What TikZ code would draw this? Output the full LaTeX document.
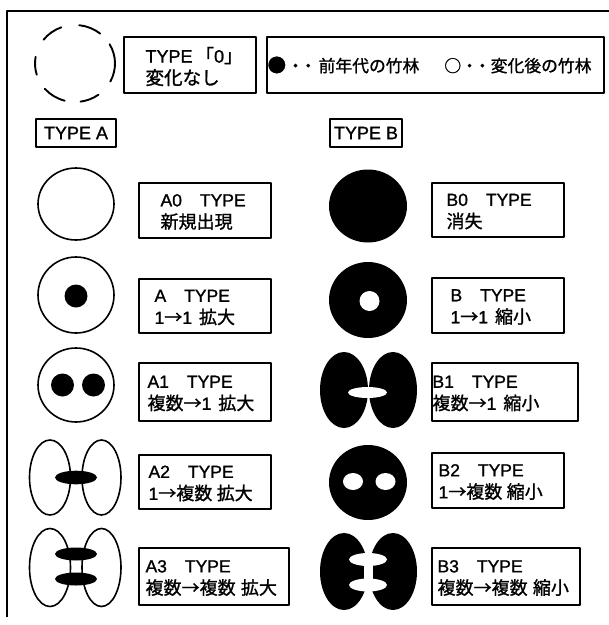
\documentclass[tikz,border=0pt]{standalone}
\usepackage{fontspec}
\setmainfont{Liberation Sans}[FakeBold=1.2]
\newfontfamily\jp{Noto Sans CJK JP}[FakeBold=1.2,Scale=1.03]
\newcommand\tbox[5]{\node[box, minimum width={(#4-#2)*1pt}, minimum height={(#5-#3)*1pt}] (#1) at ({(#2+#4)/2},{(#3+#5)/2}) {};}
\begin{document}
\begin{tikzpicture}[x=1pt,y=-1pt, line join=round,
  frame/.style={line width=1.4pt},
  box/.style={draw, line width=1.3pt, rectangle, inner sep=0pt},
  lbl/.style={font=\fontsize{17.5pt}{22pt}\selectfont, align=left, anchor=west, inner sep=0pt, yshift=-1.5pt},
  outl/.style={draw, line width=1.6pt, fill=white},
  blk/.style={fill=black},
  wht/.style={fill=white},
  dsh/.style={line width=1.9pt, line cap=round}]
\useasboundingbox (0,0) rectangle (609,625);
% frame
\coordinate (ftr) at (609,11);
\coordinate (ftl) at (7,11);
\coordinate (fbl) at (7,617);
\draw[frame] (ftr) -- (ftl) -- (fbl);
% dashed circle (type 0)
\coordinate (c0) at (75,63.5);
\foreach \a/\b in {-110/-142,-51/-84,28/-30,-170/-197,-221/-255,-278/-306}{
  \draw[dsh] (c0) ++(\a:40 and 38.5) arc[start angle=\a, end angle=\b, x radius=40, y radius=38.5];
}
% top boxes
\tbox{t0}{124}{37}{256}{93}
\node[lbl, font=\fontsize{18pt}{22pt}\selectfont] (t0t) at ([xshift=22pt]t0.west) {TYPE\hspace{3pt}{\jp 「}0{\jp 」}\\{\jp 変化なし}};
\tbox{leg}{267}{37}{604}{93}
\node[lbl, font=\fontsize{16.3pt}{20pt}\jp, yshift=1.5pt] (legt) at ([xshift=1pt]leg.west) {{\fontsize{18pt}{20pt}\selectfont ●}\hspace{1pt}・\hspace{-4pt}・\hspace{2pt}前年代の竹林\hspace{25pt}○・\hspace{-4pt}・変化後の竹林};
\tbox{ta}{36}{119}{116}{147}
\node[lbl, anchor=center, font=\fontsize{18pt}{20pt}\selectfont, yshift=1.5pt] (tat) at (ta.center) {TYPE A};
\tbox{tb}{330}{119}{402}{147}
\node[lbl, anchor=center, font=\fontsize{18pt}{20pt}\selectfont, yshift=1.5pt] (tbt) at (tb.center) {TYPE B};
% A column boxes
\tbox{a0}{139}{183}{271}{238}
\node[lbl] (a0t) at ([xshift=22pt]a0.west) {A0\hspace{18pt}TYPE\\{\jp 新規出現}};
\tbox{a}{139}{279}{271}{333}
\node[lbl] (at) at ([xshift=16pt]a.west) {A\hspace{18pt}TYPE\\1{\jp →}1\hspace{0.4em}{\jp 拡大}};
\tbox{a1}{139}{363}{271}{421}
\node[lbl] (a1t) at ([xshift=9pt]a1.west) {A1\hspace{18pt}TYPE\\{\jp 複数→}1\hspace{0.4em}{\jp 拡大}};
\tbox{a2}{139}{455}{271}{509}
\node[lbl] (a2t) at ([xshift=10pt]a2.west) {A2\hspace{18pt}TYPE\\1{\jp →複数}\hspace{0.25em}{\jp 拡大}};
\tbox{a3}{139}{548}{289}{605}
\node[lbl] (a3t) at ([xshift=7pt]a3.west) {A3\hspace{18pt}TYPE\\{\jp 複数→複数}\hspace{0.3em}{\jp 拡大}};
% B column boxes
\tbox{b0}{432}{183}{564}{237}
\node[lbl] (b0t) at ([xshift=15pt]b0.west) {B0\hspace{18pt}TYPE\\{\jp 消失}};
\tbox{b}{432}{278}{564}{333}
\node[lbl] (bt) at ([xshift=19pt]b.west) {B\hspace{18pt}TYPE\\1{\jp →}1\hspace{0.4em}{\jp 縮小}};
\tbox{b1}{432}{363}{578}{421}
\node[lbl] (b1t) at ([xshift=1pt]b1.west) {B1\hspace{18pt}TYPE\\{\jp 複数→}1\hspace{0.4em}{\jp 縮小}};
\tbox{b2}{432}{453}{564}{508}
\node[lbl] (b2t) at ([xshift=7pt]b2.west) {B2\hspace{18pt}TYPE\\1{\jp →複数}\hspace{0.25em}{\jp 縮小}};
\tbox{b3}{432}{548}{580}{605}
\node[lbl] (b3t) at ([xshift=6pt]b3.west) {B3\hspace{18pt}TYPE\\{\jp 複数→複数}\hspace{0.3em}{\jp 縮小}};
% A shapes
\draw[outl] (76,204) ellipse [x radius=38, y radius=36];
\draw[outl] (76,295) ellipse [x radius=38, y radius=38];
\fill[blk] (76,296) circle [radius=11.5];
\draw[outl] (76,385) ellipse [x radius=38, y radius=37];
\fill[blk] (62.5,385) circle [radius=11.5];
\fill[blk] (93.5,385) circle [radius=11.5];
% A2
\draw[outl] (50,477.5) ellipse [x radius=20.5, y radius=37.5];
\draw[outl] (101.5,477.5) ellipse [x radius=19.5, y radius=37.5];
\fill[blk] (76,477.5) ellipse [x radius=21, y radius=6.8];
% A3
\draw[outl] (50,567.5) ellipse [x radius=20.5, y radius=39];
\draw[outl] (101.5,567.5) ellipse [x radius=19.5, y radius=39];
\fill[blk] (76,554) ellipse [x radius=21, y radius=6.5];
\fill[blk] (76,579) ellipse [x radius=21, y radius=6.5];
% B shapes
\fill[blk] (368,206) ellipse [x radius=39, y radius=36.5];
\fill[blk] (368,300) ellipse [x radius=39, y radius=38];
\fill[wht] (369.5,301) circle [radius=10];
% B1
\fill[blk] (344,390) ellipse [x radius=24, y radius=38];
\fill[blk] (393,390) ellipse [x radius=24, y radius=38];
\fill[wht] (367.5,392.5) ellipse [x radius=19.5, y radius=5.5];
% B2
\fill[blk] (368,482.5) ellipse [x radius=39, y radius=37.5];
\fill[wht] (353,481.5) ellipse [x radius=10, y radius=8.5];
\fill[wht] (385.5,481.5) ellipse [x radius=10, y radius=8.5];
% B3
\fill[blk] (344,571.5) ellipse [x radius=24, y radius=38.5];
\fill[blk] (393,571.5) ellipse [x radius=24, y radius=38.5];
\fill[wht] (364,560) rectangle (373,585);
\fill[wht] (368,559.5) ellipse [x radius=19, y radius=6.5];
\fill[wht] (368,585) ellipse [x radius=19, y radius=6.5];
\end{tikzpicture}
\end{document}
